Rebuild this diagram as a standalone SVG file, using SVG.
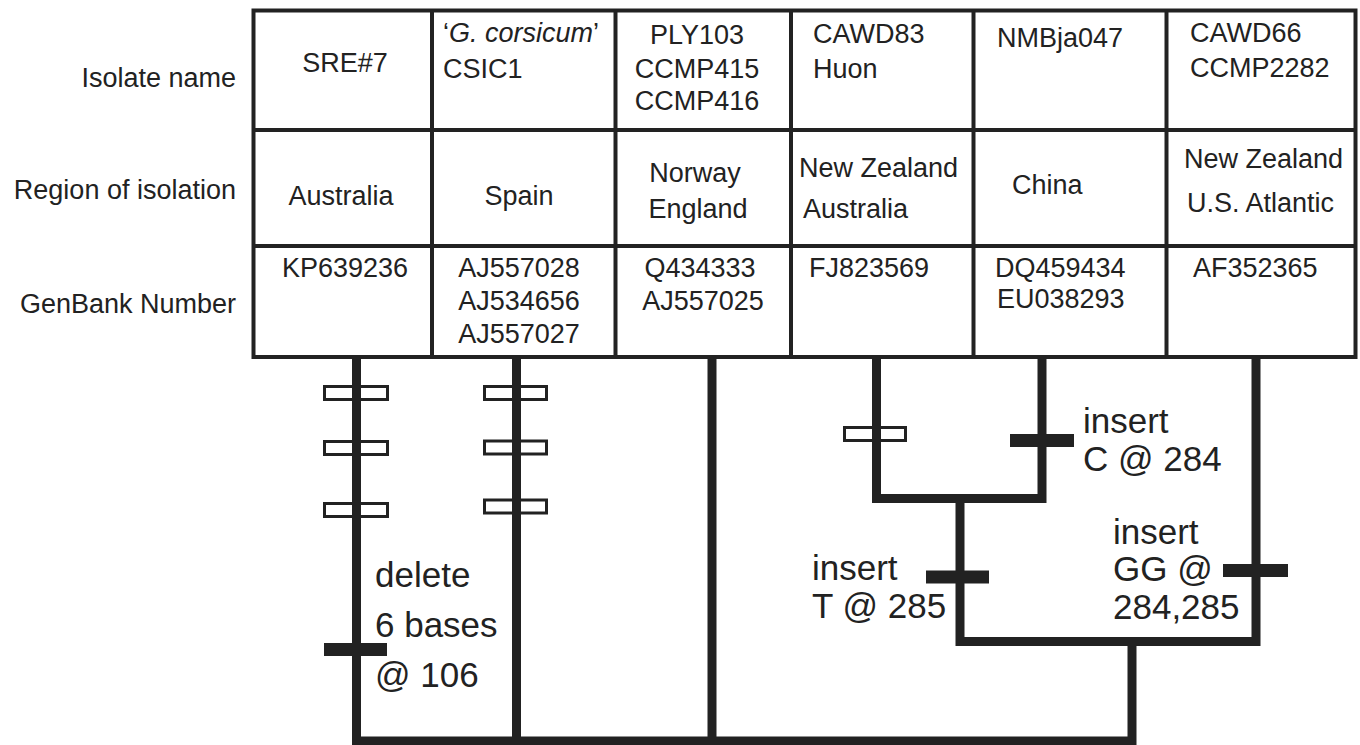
<svg xmlns="http://www.w3.org/2000/svg" width="1360" height="745" viewBox="0 0 1360 745">
<style>
.t{font-family:"Liberation Sans",Arial,sans-serif;font-size:27px;fill:#222}
.lab{font-family:"Liberation Sans",Arial,sans-serif;font-size:27px;fill:#222;text-anchor:end}
.m{text-anchor:middle}
.big{font-family:"Liberation Sans",Arial,sans-serif;font-size:35px;fill:#222}
.grid{stroke:#222;stroke-width:4;fill:none}
.br{stroke:#222;stroke-width:9;fill:none;stroke-linejoin:miter;stroke-linecap:butt}
.hol{stroke:#222;stroke-width:3;fill:none}
.fil{fill:#222}
</style>
<rect width="1360" height="745" fill="#fff"/>
<g id="row-labels">
<text class="lab" x="236" y="87">Isolate name</text>
<text class="lab" x="236" y="199">Region of isolation</text>
<text class="lab" x="236" y="313">GenBank Number</text>
</g>
<g id="table">
<rect class="grid" x="253.5" y="10.5" width="1102" height="346.5"/>
<path class="grid" d="M253.5 130H1355.5M253.5 246H1355.5M432 10.5V357M615.5 10.5V357M791 10.5V357M973.5 10.5V357M1166.5 10.5V357"/>
</g>
<g id="col-SRE7">
<text class="t m" x="345" y="72">SRE#7</text>
<text class="t m" x="341" y="205">Australia</text>
<text class="t m" x="345" y="277">KP639236</text>
</g>
<g id="col-corsicum">
<text class="t" x="443" y="42">‘<tspan font-style="italic">G. corsicum</tspan>’</text>
<text class="t" x="443" y="78">CSIC1</text>
<text class="t m" x="519" y="205">Spain</text>
<text class="t m" x="519" y="277">AJ557028</text>
<text class="t m" x="519" y="310">AJ534656</text>
<text class="t m" x="519" y="343">AJ557027</text>
</g>
<g id="col-PLY103">
<text class="t m" x="697" y="44">PLY103</text>
<text class="t m" x="697" y="78">CCMP415</text>
<text class="t m" x="697" y="110">CCMP416</text>
<text class="t m" x="695" y="182">Norway</text>
<text class="t m" x="698" y="218">England</text>
<text class="t m" x="700" y="277">Q434333</text>
<text class="t m" x="703" y="310">AJ557025</text>
</g>
<g id="col-CAWD83">
<text class="t" x="813" y="43">CAWD83</text>
<text class="t" x="813" y="78">Huon</text>
<text class="t" x="799" y="177">New Zealand</text>
<text class="t" x="803" y="218">Australia</text>
<text class="t" x="809" y="277">FJ823569</text>
</g>
<g id="col-NMBja047">
<text class="t" x="997" y="47">NMBja047</text>
<text class="t" x="1012" y="194">China</text>
<text class="t" x="995" y="277">DQ459434</text>
<text class="t" x="997" y="308">EU038293</text>
</g>
<g id="col-CAWD66">
<text class="t" x="1190" y="42">CAWD66</text>
<text class="t" x="1190" y="77">CCMP2282</text>
<text class="t" x="1184" y="168">New Zealand</text>
<text class="t" x="1187" y="212">U.S. Atlantic</text>
<text class="t" x="1193" y="277">AF352365</text>
</g>
<g id="connectors">
<path class="br" d="M356.5 357V741H1132V641.5"/>
<path class="br" d="M516.5 357V741"/>
<path class="br" d="M712 357V741"/>
<path class="br" d="M876.5 357V498.5H1042V357"/>
<path class="br" d="M960 498.5V641.5H1256V357"/>
</g>
<g id="marks">
<rect class="hol" x="324.5" y="386.5" width="63" height="13"/>
<rect class="hol" x="324.5" y="441.5" width="63" height="13"/>
<rect class="hol" x="324.5" y="503.5" width="63" height="13"/>
<rect class="hol" x="484.5" y="386.5" width="62" height="13"/>
<rect class="hol" x="484.5" y="441" width="62" height="13"/>
<rect class="hol" x="484.5" y="500" width="62" height="13"/>
<rect class="hol" x="844.5" y="427.5" width="61" height="13"/>
<rect class="fil" x="324" y="643" width="63" height="13"/>
<rect class="fil" x="1010" y="434" width="64" height="13"/>
<rect class="fil" x="926" y="570.5" width="63" height="13"/>
<rect class="fil" x="1223" y="564" width="65" height="13"/>
</g>
<g id="mutation-labels">
<text class="big" x="375" y="587">delete</text>
<text class="big" x="375" y="637">6 bases</text>
<text class="big" x="375" y="687">@ 106</text>
<text class="big" x="1083" y="433">insert</text>
<text class="big" x="1083" y="471">C @ 284</text>
<text class="big" x="812" y="580">insert</text>
<text class="big" x="812" y="618">T @ 285</text>
<text class="big" x="1113" y="544">insert</text>
<text class="big" x="1113" y="581">GG @</text>
<text class="big" x="1113" y="619">284,285</text>
</g>
</svg>
